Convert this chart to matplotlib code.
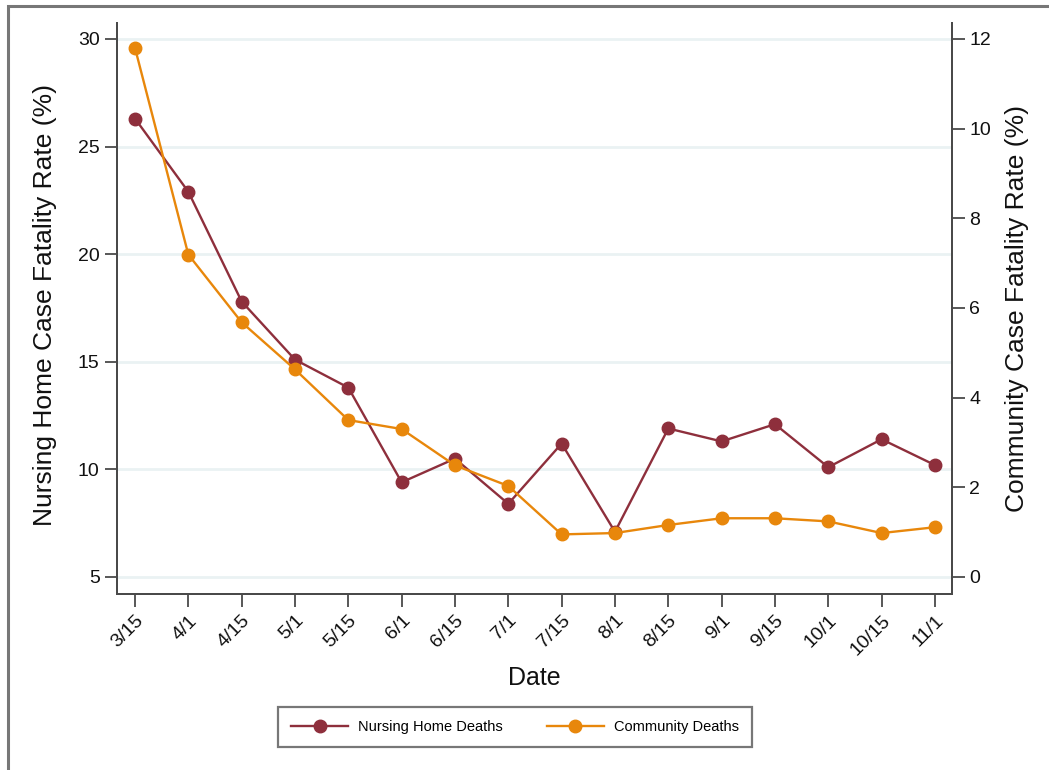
import numpy as np
import matplotlib.pyplot as plt
from matplotlib.patches import Rectangle
from matplotlib.lines import Line2D

plt.rcParams['font.family'] = ['Liberation Sans', 'DejaVu Sans']

dates = ['3/15', '4/1', '4/15', '5/1', '5/15', '6/1', '6/15', '7/1',
         '7/15', '8/1', '8/15', '9/1', '9/15', '10/1', '10/15', '11/1']
nursing_home = [26.3, 22.9, 17.8, 15.1, 13.8, 9.4, 10.5, 8.4,
                11.2, 7.1, 11.9, 11.3, 12.1, 10.1, 11.4, 10.2]
community = [11.8, 7.19, 5.68, 4.63, 3.50, 3.30, 2.49, 2.03,
             0.95, 0.98, 1.16, 1.31, 1.31, 1.24, 0.98, 1.11]
left_ticks = [5, 10, 15, 20, 25, 30]
right_ticks = [0, 2, 4, 6, 8, 10, 12]

nh_color = '#8E2F3C'
com_color = '#E8870B'
axis_color = '#4a4a4a'

fig = plt.figure(figsize=(10.49, 7.70), dpi=100)
# outer frame
fig.patches.append(Rectangle((8 / 1049, -0.1), 1.2, 1 - 6 / 770 + 0.1,
                             transform=fig.transFigure, fill=False,
                             edgecolor='#777777', linewidth=2.2))

ax = fig.add_axes([117 / 1049, 1 - 594 / 770, (952 - 117) / 1049, (594 - 23) / 770])
ax2 = ax.twinx()

x = np.arange(len(dates))
ax.plot(x, nursing_home, color=nh_color, lw=1.7, marker='o', ms=9, zorder=3)
ax2.plot(x, community, color=com_color, lw=1.7, marker='o', ms=9, zorder=3)

ax.set_xlim(-0.3375, 15.32)
ylo, yhi = 4.21, 30.74
ax.set_ylim(ylo, yhi)
ax2.set_ylim((ylo - 5) * 12 / 25, (yhi - 5) * 12 / 25)

ax.set_yticks(left_ticks)
ax2.set_yticks(right_ticks)
ax.set_xticks(x)
ax.set_xticklabels(dates, rotation=45, ha='right', rotation_mode='anchor')

for yv in left_ticks:
    ax.axhline(yv, color='#EAF2F3', lw=2, zorder=0)

for a in (ax, ax2):
    a.spines['top'].set_visible(False)
    for s in a.spines.values():
        s.set_color(axis_color)
        s.set_linewidth(1.4)
    a.tick_params(length=9, width=1.3, color=axis_color, labelsize=14,
                  labelcolor='#111111')
ax.tick_params(axis='x', pad=4)

fig.text(45 / 1049, 1 - 305 / 770, 'Nursing Home Case Fatality Rate (%)',
         rotation=90, ha='center', va='center', fontsize=19, color='#111111')
fig.text(1017 / 1049, 1 - 309 / 770, 'Community Case Fatality Rate (%)',
         rotation=90, ha='center', va='center', fontsize=19, color='#111111')
fig.text(534 / 1049, 1 - 678 / 770, 'Date', ha='center', va='center',
         fontsize=18, color='#111111')

handles = [Line2D([], [], color=nh_color, lw=1.7, marker='o', ms=9),
           Line2D([], [], color=com_color, lw=1.7, marker='o', ms=9)]
leg = fig.legend(handles, ['Nursing Home Deaths', 'Community Deaths'],
                 loc='center', bbox_to_anchor=(515 / 1049, 1 - 727 / 770),
                 ncol=2, fontsize=10.5, frameon=True, fancybox=False,
                 handlelength=3.9, handletextpad=0.7, columnspacing=3.0,
                 borderpad=0.9, borderaxespad=0)
leg.get_frame().set_edgecolor('#555555')
leg.get_frame().set_linewidth(1.6)

fig.savefig('out.png', dpi=100)
